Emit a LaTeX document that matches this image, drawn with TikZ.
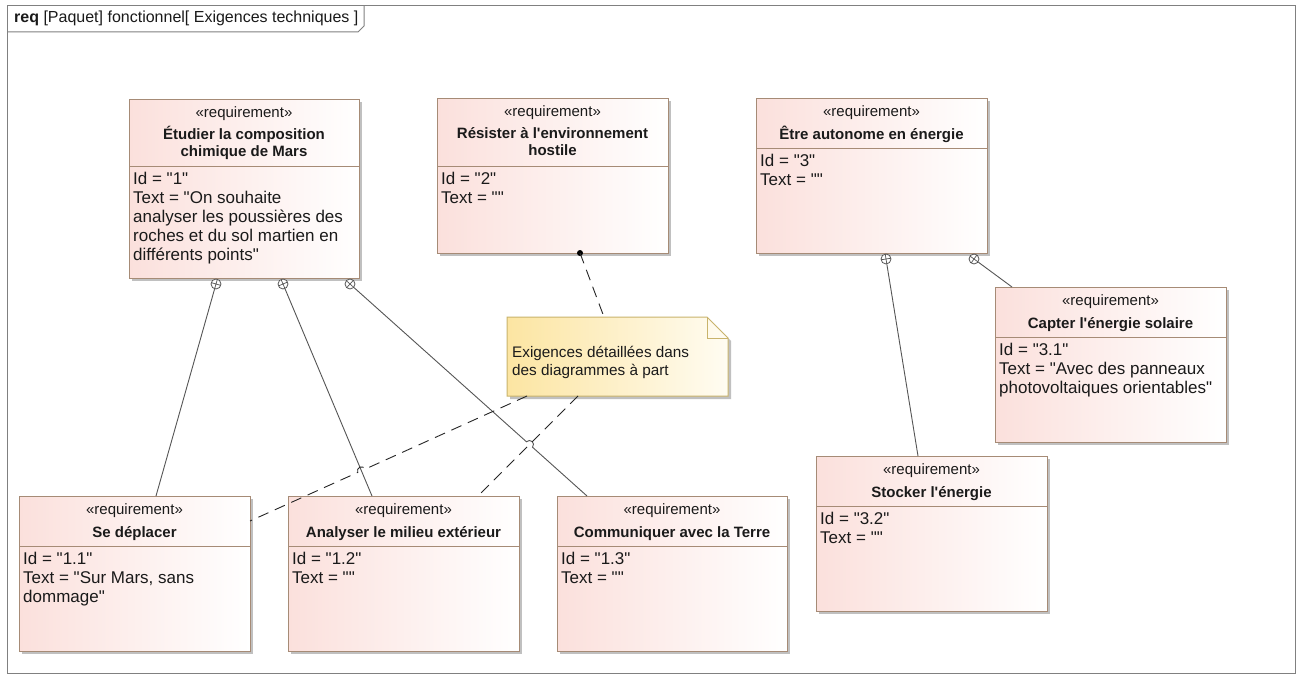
\documentclass[tikz,border=0pt]{standalone}
\usepackage{fontspec}
\setmainfont{Liberation Sans}[Ligatures=TeXOff]
\usetikzlibrary{calc,shadows}
\definecolor{reqborder}{HTML}{A68B76}
\definecolor{reqfill}{HTML}{FBE0DC}
\definecolor{notefill}{HTML}{FCE5A2}
\definecolor{noteend}{HTML}{FFFCF2}
\definecolor{noteborder}{HTML}{C9B36C}
\definecolor{conncol}{HTML}{555555}
\definecolor{framec}{HTML}{808080}
\definecolor{txt}{HTML}{1A1A1A}
\tikzset{
  reqbox/.style={draw=reqborder, line width=1pt, left color=reqfill, right color=white,
    shading angle=90, drop shadow={shadow xshift=3pt, shadow yshift=-3pt, fill=black!35, opacity=.7},
    inner sep=0pt, outer sep=0pt},
  sepline/.style={draw=reqborder, line width=1pt},
  stereotxt/.style={anchor=base, inner sep=0pt, text=txt, font=\fontsize{15}{18}\selectfont},
  titletxt/.style={anchor=base, inner sep=0pt, text=txt, font=\fontsize{15}{18}\selectfont\bfseries},
  bodytxt/.style={anchor=base west, inner sep=0pt, text=txt, font=\fontsize{17}{19}\selectfont},
  notetxt/.style={anchor=base west, inner sep=0pt, text=txt, font=\fontsize{15.3}{18}\selectfont},
  connline/.style={draw=conncol, line width=0.9pt},
  dashline/.style={draw=black!85, line width=0.9pt, dash pattern=on 11pt off 7pt},
  contain/.style={circle, draw=conncol, fill=white, minimum size=10pt, inner sep=0pt, line width=0.8pt},
  crossline/.style={draw=conncol, line width=0.7pt},
}
\newcommand\mkreq[6]{%
  \node[reqbox, minimum width=#4pt, minimum height=#5pt, anchor=north west] (#1) at (#2,#3) {};
  \draw[sepline] ([yshift=-#6pt]#1.north west) -- ([yshift=-#6pt]#1.north east);
  \node[stereotxt] (#1st) at ([yshift=-18pt]#1.north) {«requirement»};}
\newcommand\ttl[4]{\node[titletxt] (#1#2) at ([yshift=-#3pt]#1.north) {#4};}
\newcommand\bl[4]{\node[bodytxt] (#1#2) at ([xshift=4pt,yshift=-#3pt]#1.north west) {#4};}
\newcommand\mkcontain[4]{%
  \node[contain] (#1) at (#2,#3) {};
  \draw[crossline] ($(#1)+(#4:5pt)$) -- ($(#1)+(#4+180:5pt)$)
                   ($(#1)+(#4+90:5pt)$) -- ($(#1)+(#4+270:5pt)$);}
\begin{document}
\begin{tikzpicture}[x=1pt,y=-1pt]
\useasboundingbox (0,0) rectangle (1301,677);
\fill[white] (0,0) rectangle (1301,677);
% frame
\draw[framec, line width=1pt] (7,6) rectangle (1295,673);
\draw[framec, line width=1pt] (7,32) -- (358,32) -- (364,26) -- (364,6);
\node[anchor=base west, inner sep=0pt, text=txt, font=\fontsize{16}{18}\selectfont] (lbl) at (14,23)
  {\textbf{req} [Paquet] fonctionnel[ Exigences techniques ]};

% requirement boxes
\mkreq{n1}{129}{99}{230}{179}{67}
\ttl{n1}{ta}{40}{Étudier la composition}
\ttl{n1}{tb}{57}{chimique de Mars}
\bl{n1}{a}{85}{Id = "1"}
\bl{n1}{b}{104}{Text = "On souhaite}
\bl{n1}{c}{123}{analyser les poussières des}
\bl{n1}{d}{142}{roches et du sol martien en}
\bl{n1}{e}{161}{différents points"}

\mkreq{n2}{437}{98}{231}{155}{68}
\ttl{n2}{ta}{40}{Résister à l'environnement}
\ttl{n2}{tb}{57}{hostile}
\bl{n2}{a}{86}{Id = "2"}
\bl{n2}{b}{105}{Text = ""}

\mkreq{n3}{756}{98}{231}{155}{50}
\ttl{n3}{ta}{41}{Être autonome en énergie}
\bl{n3}{a}{68}{Id = "3"}
\bl{n3}{b}{87}{Text = ""}

\mkreq{n31}{995}{287}{231}{155}{50}
\ttl{n31}{ta}{41}{Capter l'énergie solaire}
\bl{n31}{a}{68}{Id = "3.1"}
\bl{n31}{b}{87}{Text = "Avec des panneaux}
\bl{n31}{c}{106}{photovoltaiques orientables"}

\mkreq{n32}{816}{456}{231}{155}{50}
\ttl{n32}{ta}{41}{Stocker l'énergie}
\bl{n32}{a}{68}{Id = "3.2"}
\bl{n32}{b}{87}{Text = ""}

\mkreq{n11}{19}{496}{231}{155}{50}
\ttl{n11}{ta}{41}{Se déplacer}
\bl{n11}{a}{68}{Id = "1.1"}
\bl{n11}{b}{87}{Text = "Sur Mars, sans}
\bl{n11}{c}{106}{dommage"}

\mkreq{n12}{288}{496}{231}{155}{50}
\ttl{n12}{ta}{41}{Analyser le milieu extérieur}
\bl{n12}{a}{68}{Id = "1.2"}
\bl{n12}{b}{87}{Text = ""}

\mkreq{n13}{557}{496}{230}{155}{50}
\ttl{n13}{ta}{41}{Communiquer avec la Terre}
\bl{n13}{a}{68}{Id = "1.3"}
\bl{n13}{b}{87}{Text = ""}

% note
\node[inner sep=0pt, outer sep=0pt, minimum width=221pt, minimum height=79pt, anchor=north west] (note) at (507,317) {};
\path[draw=noteborder, line width=1pt, left color=notefill, right color=noteend, shading angle=90,
  drop shadow={shadow xshift=3pt, shadow yshift=-3pt, fill=black!35, opacity=.7}]
  (note.north west) -- ([xshift=-21pt]note.north east) -- ([yshift=-21pt]note.north east)
  -- (note.south east) -- (note.south west) -- cycle;
\draw[noteborder, line width=1pt] ([xshift=-21pt]note.north east) -- ([xshift=-21pt,yshift=-21pt]note.north east)
  -- ([yshift=-21pt]note.north east);
\node[notetxt] (notea) at (512,357) {Exigences détaillées dans};
\node[notetxt] (noteb) at (512,375) {des diagrammes à part};

% containment symbols
\mkcontain{c11}{216}{284}{74}
\mkcontain{c12}{283}{284}{23}
\mkcontain{c13}{350}{284}{48}
\mkcontain{c31}{886}{259}{9}
\mkcontain{c32}{974}{259}{54}

% hop coordinates
\coordinate (h1a) at (365.0,469.2);
\coordinate (h1c1) at (362.8,464.4);
\coordinate (h1c2) at (355.6,467.6);
\coordinate (h1b) at (357.8,472.4);
\coordinate (h2a) at (526.5,441.8);
\coordinate (h2c1) at (530.0,437.9);
\coordinate (h2c2) at (536.0,443.3);
\coordinate (h2b) at (532.5,447.2);

% containment connectors
\draw[connline] (c11) -- ([xshift=137pt]n11.north west);
\draw[connline] (c12) -- ([xshift=84pt]n12.north west);
\draw[connline] (c13) -- (h2a) .. controls (h2c1) and (h2c2) .. (h2b) -- ([xshift=30pt]n13.north west);
\draw[connline] (c31) -- ([xshift=102pt]n32.north west);
\draw[connline] (c32) -- ([xshift=17pt]n31.north west);

% note anchors
\node[circle, fill=black, minimum size=6pt, inner sep=0pt] (dot) at ([xshift=143pt]n2.south west) {};
\draw[dashline] (dot.center) -- ([xshift=97pt]note.north west);
\draw[dashline] ([xshift=20pt]note.south west) -- (h1a) .. controls (h1c1) and (h1c2) .. (h1b) -- ([yshift=-25pt]n11.north east);
\draw[dashline] ([xshift=71pt]note.south west) -- ([xshift=190pt]n12.north west);
\end{tikzpicture}
\end{document}
